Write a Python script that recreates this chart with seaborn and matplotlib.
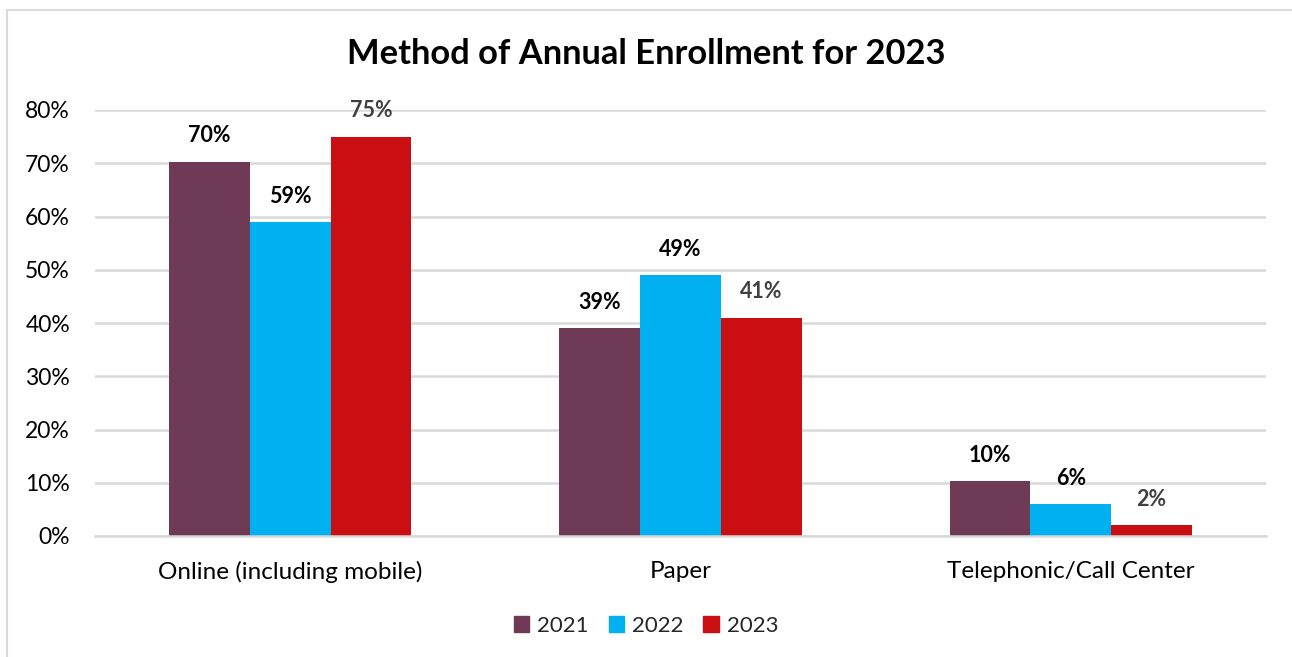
import matplotlib
matplotlib.use("Agg")
import matplotlib.pyplot as plt
import matplotlib.patches as mpatches
import seaborn as sns
import pandas as pd

categories = ["Online (including mobile)", "Paper", "Telephonic/Call Center"]
years = ["2021", "2022", "2023"]
values_2021 = [0.703, 0.39, 0.103]
values_2022 = [0.59, 0.49, 0.06]
values_2023 = [0.75, 0.41, 0.02]
labels_2021 = ["70%", "39%", "10%"]
labels_2022 = ["59%", "49%", "6%"]
labels_2023 = ["75%", "41%", "2%"]
y_ticks = [0, 0.1, 0.2, 0.3, 0.4, 0.5, 0.6, 0.7, 0.8]
y_tick_labels = ["0%", "10%", "20%", "30%", "40%", "50%", "60%", "70%", "80%"]

colors = {"2021": "#6E3A56", "2022": "#00B0F0", "2023": "#C90F12"}
label_colors = {"2021": "#000000", "2022": "#000000", "2023": "#404040"}

df = pd.DataFrame({
    "category": categories * 3,
    "year": [y for y in years for _ in categories],
    "value": values_2021 + values_2022 + values_2023,
    "label": labels_2021 + labels_2022 + labels_2023,
})

sns.set_theme(style="white")
plt.rcParams["font.family"] = ["Lato", "DejaVu Sans"]

fig = plt.figure(figsize=(12.92, 6.57), dpi=100)
ax = fig.add_axes([95 / 1292, 1 - 536 / 657, (1266 - 95) / 1292, (536 - 110) / 657])

sns.barplot(data=df, x="category", y="value", hue="year", order=categories,
            hue_order=years, palette=colors, width=0.62, gap=0, saturation=1,
            edgecolor="none", linewidth=0, legend=False, ax=ax)

ax.set_ylim(0, 0.8)
ax.set_xlim(-0.5, 2.5)
ax.set_yticks(y_ticks)
ax.set_yticklabels(y_tick_labels, fontsize=16.5, color="#000000")
ax.tick_params(axis="x", labelsize=17.5, colors="#000000", pad=18, length=0)
ax.tick_params(axis="y", pad=18, length=0)
ax.set_xlabel("")
ax.set_ylabel("")
ax.yaxis.grid(True, color="#D9D9D9", linewidth=1.8)
ax.set_axisbelow(True)
for side in ["top", "right", "left"]:
    ax.spines[side].set_visible(False)
ax.spines["bottom"].set_color("#D9D9D9")
ax.spines["bottom"].set_linewidth(1.8)

# value labels above each bar
for container, year in zip(ax.containers, years):
    sub = df[df["year"] == year].set_index("category").loc[categories]
    for bar, lab in zip(container, sub["label"]):
        ax.annotate(lab, (bar.get_x() + bar.get_width() / 2, bar.get_height()),
                    xytext=(0, 11), textcoords="offset points",
                    ha="center", va="bottom", fontsize=15.5, fontweight="bold",
                    color=label_colors[year])

fig.text(0.5, 1 - 54 / 657, "Method of Annual Enrollment for 2023",
         ha="center", va="center", fontsize=24.8, fontweight="bold", color="#000000")

handles = [mpatches.Patch(color=colors[y], label=y) for y in years]
fig.legend(handles=handles, loc="center", bbox_to_anchor=(0.5, 1 - 626 / 657),
           ncol=3, frameon=False, fontsize=16, handlelength=0.7, handleheight=0.7,
           handletextpad=0.35, columnspacing=0.9)

# chart border
border = mpatches.Rectangle((7 / 1292, -0.01), 1.02, 1 - 10 / 657 + 0.01,
                            transform=fig.transFigure, fill=False,
                            edgecolor="#D9D9D9", linewidth=1.5)
fig.patches.append(border)

fig.savefig("out.png", dpi=100, facecolor="white")
